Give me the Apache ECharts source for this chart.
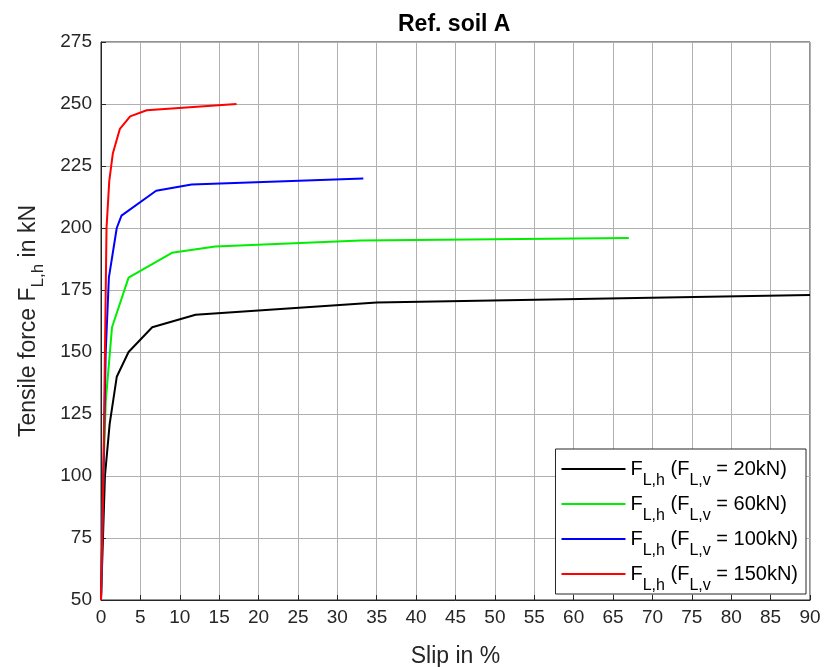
<!DOCTYPE html>
<html>
<head>
<meta charset="utf-8">
<script src="https://cdn.jsdelivr.net/npm/echarts@6/dist/echarts.min.js"></script>
<style>html,body{margin:0;padding:0;background:#fff;}#c{width:827px;height:667px;}</style>
</head>
<body>
<div id="c"></div>
<script>
const titleText = 'Ref. soil A';
const xLabel = 'Slip in %';
const xTicks = [0,5,10,15,20,25,30,35,40,45,50,55,60,65,70,75,80,85,90];
const yTicks = [50,75,100,125,150,175,200,225,250,275];
const loadLabels = ['20kN','60kN','100kN','150kN'];
const colors = ['#000000','#00ee00','#0000ff','#ff0000'];
const slip20 = [0,0.5,1.1,2.0,3.5,6.5,12,35,90];
const force20 = [50,100,121,140,150,160,165,170,173];
const slip60 = [0,0.3,0.6,1.4,3.5,9,14.5,33,67];
const force60 = [50,100,130,160,180,190,192.5,195,196];
const slip100 = [0,0.3,0.6,1.0,2.0,2.6,7.0,11.5,33.3];
const force100 = [50,100,150,180,200,205,215,217.5,220];
const slip150 = [0,0.3,0.5,0.7,1.05,1.5,2.4,3.7,5.8,17.2];
const force150 = [50,100,150,200,219,230,240,245,247.5,250];

const slips = [slip20, slip60, slip100, slip150];
const forces = [force20, force60, force100, force150];
const font = 'Liberation Sans, Arial, sans-serif';
const txt = '#262626';

const series = loadLabels.map((lab, i) => ({
  name: lab,
  type: 'line',
  symbol: 'none',
  data: slips[i].map((s, j) => [s, forces[i][j]]),
  lineStyle: { color: colors[i], width: 2 },
  itemStyle: { color: colors[i] },
  animation: false
}));

const chart = echarts.init(document.getElementById('c'), null, { renderer: 'canvas' });
chart.setOption({
  backgroundColor: '#fff',
  animation: false,
  title: {
    text: titleText, left: 393, top: 8,
    textStyle: { fontFamily: font, fontSize: 23, fontWeight: 'bold', color: '#000' }
  },
  grid: { left: 101, right: 17, top: 42, bottom: 67, show: true, borderColor: txt, borderWidth: 1,
          backgroundColor: 'transparent', containLabel: false, outerBoundsMode: 'none' },
  xAxis: {
    type: 'value', min: 0, max: 90, interval: 5,
    name: xLabel, nameLocation: 'middle', nameGap: 45,
    nameTextStyle: { fontFamily: font, fontSize: 23, color: txt },
    axisLine: { show: true, lineStyle: { color: txt } },
    axisTick: { show: true, inside: true, length: 5, lineStyle: { color: txt } },
    axisLabel: { fontFamily: font, fontSize: 19, color: txt, margin: 8 },
    splitLine: { show: true, lineStyle: { color: '#b0b0b0', width: 1 } }
  },
  yAxis: {
    type: 'value', min: 50, max: 275, interval: 25,
    name: '{n|Tensile force F}{s|L,h}{n| in kN}', nameLocation: 'middle', nameGap: 54,
    nameTextStyle: {
      fontFamily: font, fontSize: 23, color: txt,
      rich: {
        n: { fontFamily: font, fontSize: 23, color: txt },
        s: { fontFamily: font, fontSize: 17, color: txt, padding: [20,0,0,0] }
      }
    },
    axisLine: { show: true, lineStyle: { color: txt } },
    axisTick: { show: true, inside: true, length: 5, lineStyle: { color: txt } },
    axisLabel: { fontFamily: font, fontSize: 19, color: txt, margin: 9 },
    splitLine: { show: true, lineStyle: { color: '#b0b0b0', width: 1 } }
  },
  legend: {
    orient: 'vertical', right: 21, bottom: 73,
    backgroundColor: '#fff', borderColor: txt, borderWidth: 1,
    padding: [10, 8, 0, 6], itemGap: 5, itemWidth: 64, itemHeight: 2,
    icon: 'rect',
    data: loadLabels,
    formatter: function (name) {
      return '{n|F}{s|L,h}{n| (F}{s|L,v}{n| = ' + name + ')}';
    },
    textStyle: {
      fontFamily: font, fontSize: 20, color: '#000',
      rich: {
        n: { fontFamily: font, fontSize: 20, color: '#000', padding: [12,0,12,0] },
        s: { fontFamily: font, fontSize: 16, color: '#000', padding: [26,0,2,0] }
      }
    }
  },
  series: series
});
</script>
</body>
</html>
